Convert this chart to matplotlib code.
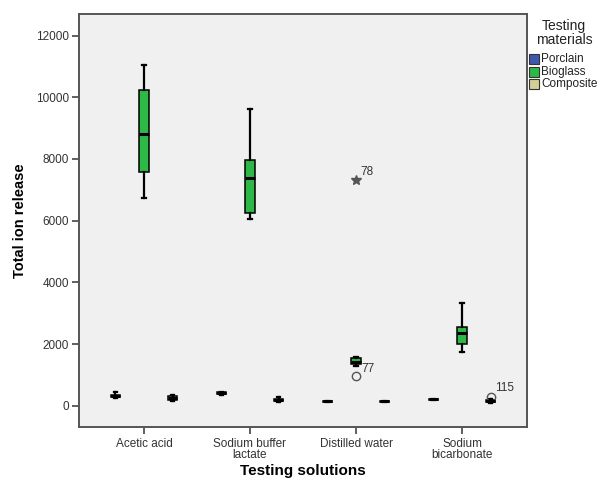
import matplotlib
matplotlib.use("Agg")
import matplotlib.pyplot as plt
from matplotlib.patches import Rectangle

plt.rcParams["font.family"] = ["Liberation Sans", "DejaVu Sans"]

solutions = ["Acetic acid", "Sodium buffer\nlactate", "Distilled water", "Sodium\nbicarbonate"]
materials = ["Porclain", "Bioglass", "Composite"]
colors = ["#3E58AC", "#2EB848", "#D3CE97"]

# five-number summaries per solution: (whisker low, Q1, median, Q3, whisker high)
porclain = [
    (250, 280, 320, 360, 430),
    (340, 370, 400, 430, 460),
    (120, 135, 145, 155, 165),
    (180, 195, 205, 215, 225),
]
bioglass = [
    (6720, 7570, 8800, 10250, 11030),
    (6040, 6240, 7370, 7950, 9620),
    (1290, 1340, 1430, 1560, 1580),
    (1740, 1990, 2350, 2560, 3340),
]
composite = [
    (140, 190, 250, 300, 340),
    (110, 150, 190, 230, 270),
    (115, 128, 138, 148, 160),
    (100, 130, 160, 190, 220),
]

# outliers: (solution index, material index, value, case label, marker)
outliers = [
    (2, 1, 7310, "78", "*"),
    (2, 1, 960, "", "o"),
    (3, 2, 290, "115", "o"),
]
# case label beside the low whisker end of distilled water / bioglass
extra_labels = [(2, 1, 1290, "77")]

yticks = [0, 2000, 4000, 6000, 8000, 10000, 12000]

fig = plt.figure(figsize=(6, 4.8), dpi=100)
ax = fig.add_axes([0.1317, 0.111, 0.7466, 0.860])
ax.set_facecolor("#F0F0F0")

offsets = [-0.27, 0.0, 0.27]
width = 0.085
series = [porclain, bioglass, composite]

for m, (data, col) in enumerate(zip(series, colors)):
    stats = []
    for lo, q1, med, q3, hi in data:
        stats.append(dict(whislo=lo, q1=q1, med=med, q3=q3, whishi=hi, fliers=[]))
    pos = [i + offsets[m] for i in range(len(data))]
    ax.bxp(stats, positions=pos, widths=width, patch_artist=True,
           showfliers=False, manage_ticks=False,
           boxprops=dict(facecolor=col, edgecolor="black", linewidth=1.1),
           medianprops=dict(color="black", linewidth=2.2),
           whiskerprops=dict(color="black", linewidth=1.6),
           capprops=dict(color="black", linewidth=1.6),
           capwidths=width * 0.35)

for s, m, v, lab, mk in outliers:
    x = s + offsets[m]
    if mk == "*":
        ax.plot(x, v, marker="*", color="#555555", markersize=7, linestyle="none")
    else:
        ax.plot(x, v, marker="o", markerfacecolor="none", markeredgecolor="#555555",
                markeredgewidth=1.0, markersize=6, linestyle="none")
    if lab:
        ax.annotate(lab, (x, v), xytext=(3, 4), textcoords="offset points",
                    fontsize=8.5, color="#333333")

for s, m, v, lab in extra_labels:
    ax.annotate(lab, (s + offsets[m], v), xytext=(4, -2), textcoords="offset points",
                fontsize=8.5, color="#333333", va="center")

ax.set_xlim(-0.613, 3.613)
ax.set_ylim(-680, 12700)
ax.set_yticks(yticks)
ax.set_yticklabels([str(t) for t in yticks], fontsize=8.5, color="#333333")
ax.set_xticks(range(len(solutions)))
ax.set_xticklabels(solutions, fontsize=8.5, color="#333333", linespacing=0.9)
ax.tick_params(axis="both", direction="out", length=5, width=1.2, color="#444444")
ax.tick_params(axis="y", pad=2)
ax.tick_params(axis="x", pad=3)
for sp in ax.spines.values():
    sp.set_color("#555555")
    sp.set_linewidth(1.4)

ax.set_ylabel("Total ion release", fontsize=10.5, fontweight="bold")
ax.yaxis.set_label_coords(-0.132, 0.5)
ax.yaxis.label.set_verticalalignment("center")
ax.set_xlabel("Testing solutions", fontsize=11, fontweight="bold")
ax.xaxis.set_label_coords(0.5, -0.107)
ax.xaxis.label.set_verticalalignment("center")

# legend drawn in figure pixel-fraction coordinates
W, H = 600.0, 480.0
fig.text(564 / W, 1 - 33 / H, "Testing\nmaterials", ha="center", va="center",
         fontsize=10, color="#222222", linespacing=1.0)
for k, (name, col) in enumerate(zip(materials, colors)):
    top = 54 + k * 12.7
    fig.add_artist(Rectangle((529 / W, 1 - (top + 10) / H), 10 / W, 10 / H,
                             transform=fig.transFigure, facecolor=col,
                             edgecolor="#333333", linewidth=0.8))
    fig.text(541 / W, 1 - (top + 5) / H, name, ha="left", va="center",
             fontsize=8.5, color="#222222")

fig.savefig("out.png", dpi=100)
